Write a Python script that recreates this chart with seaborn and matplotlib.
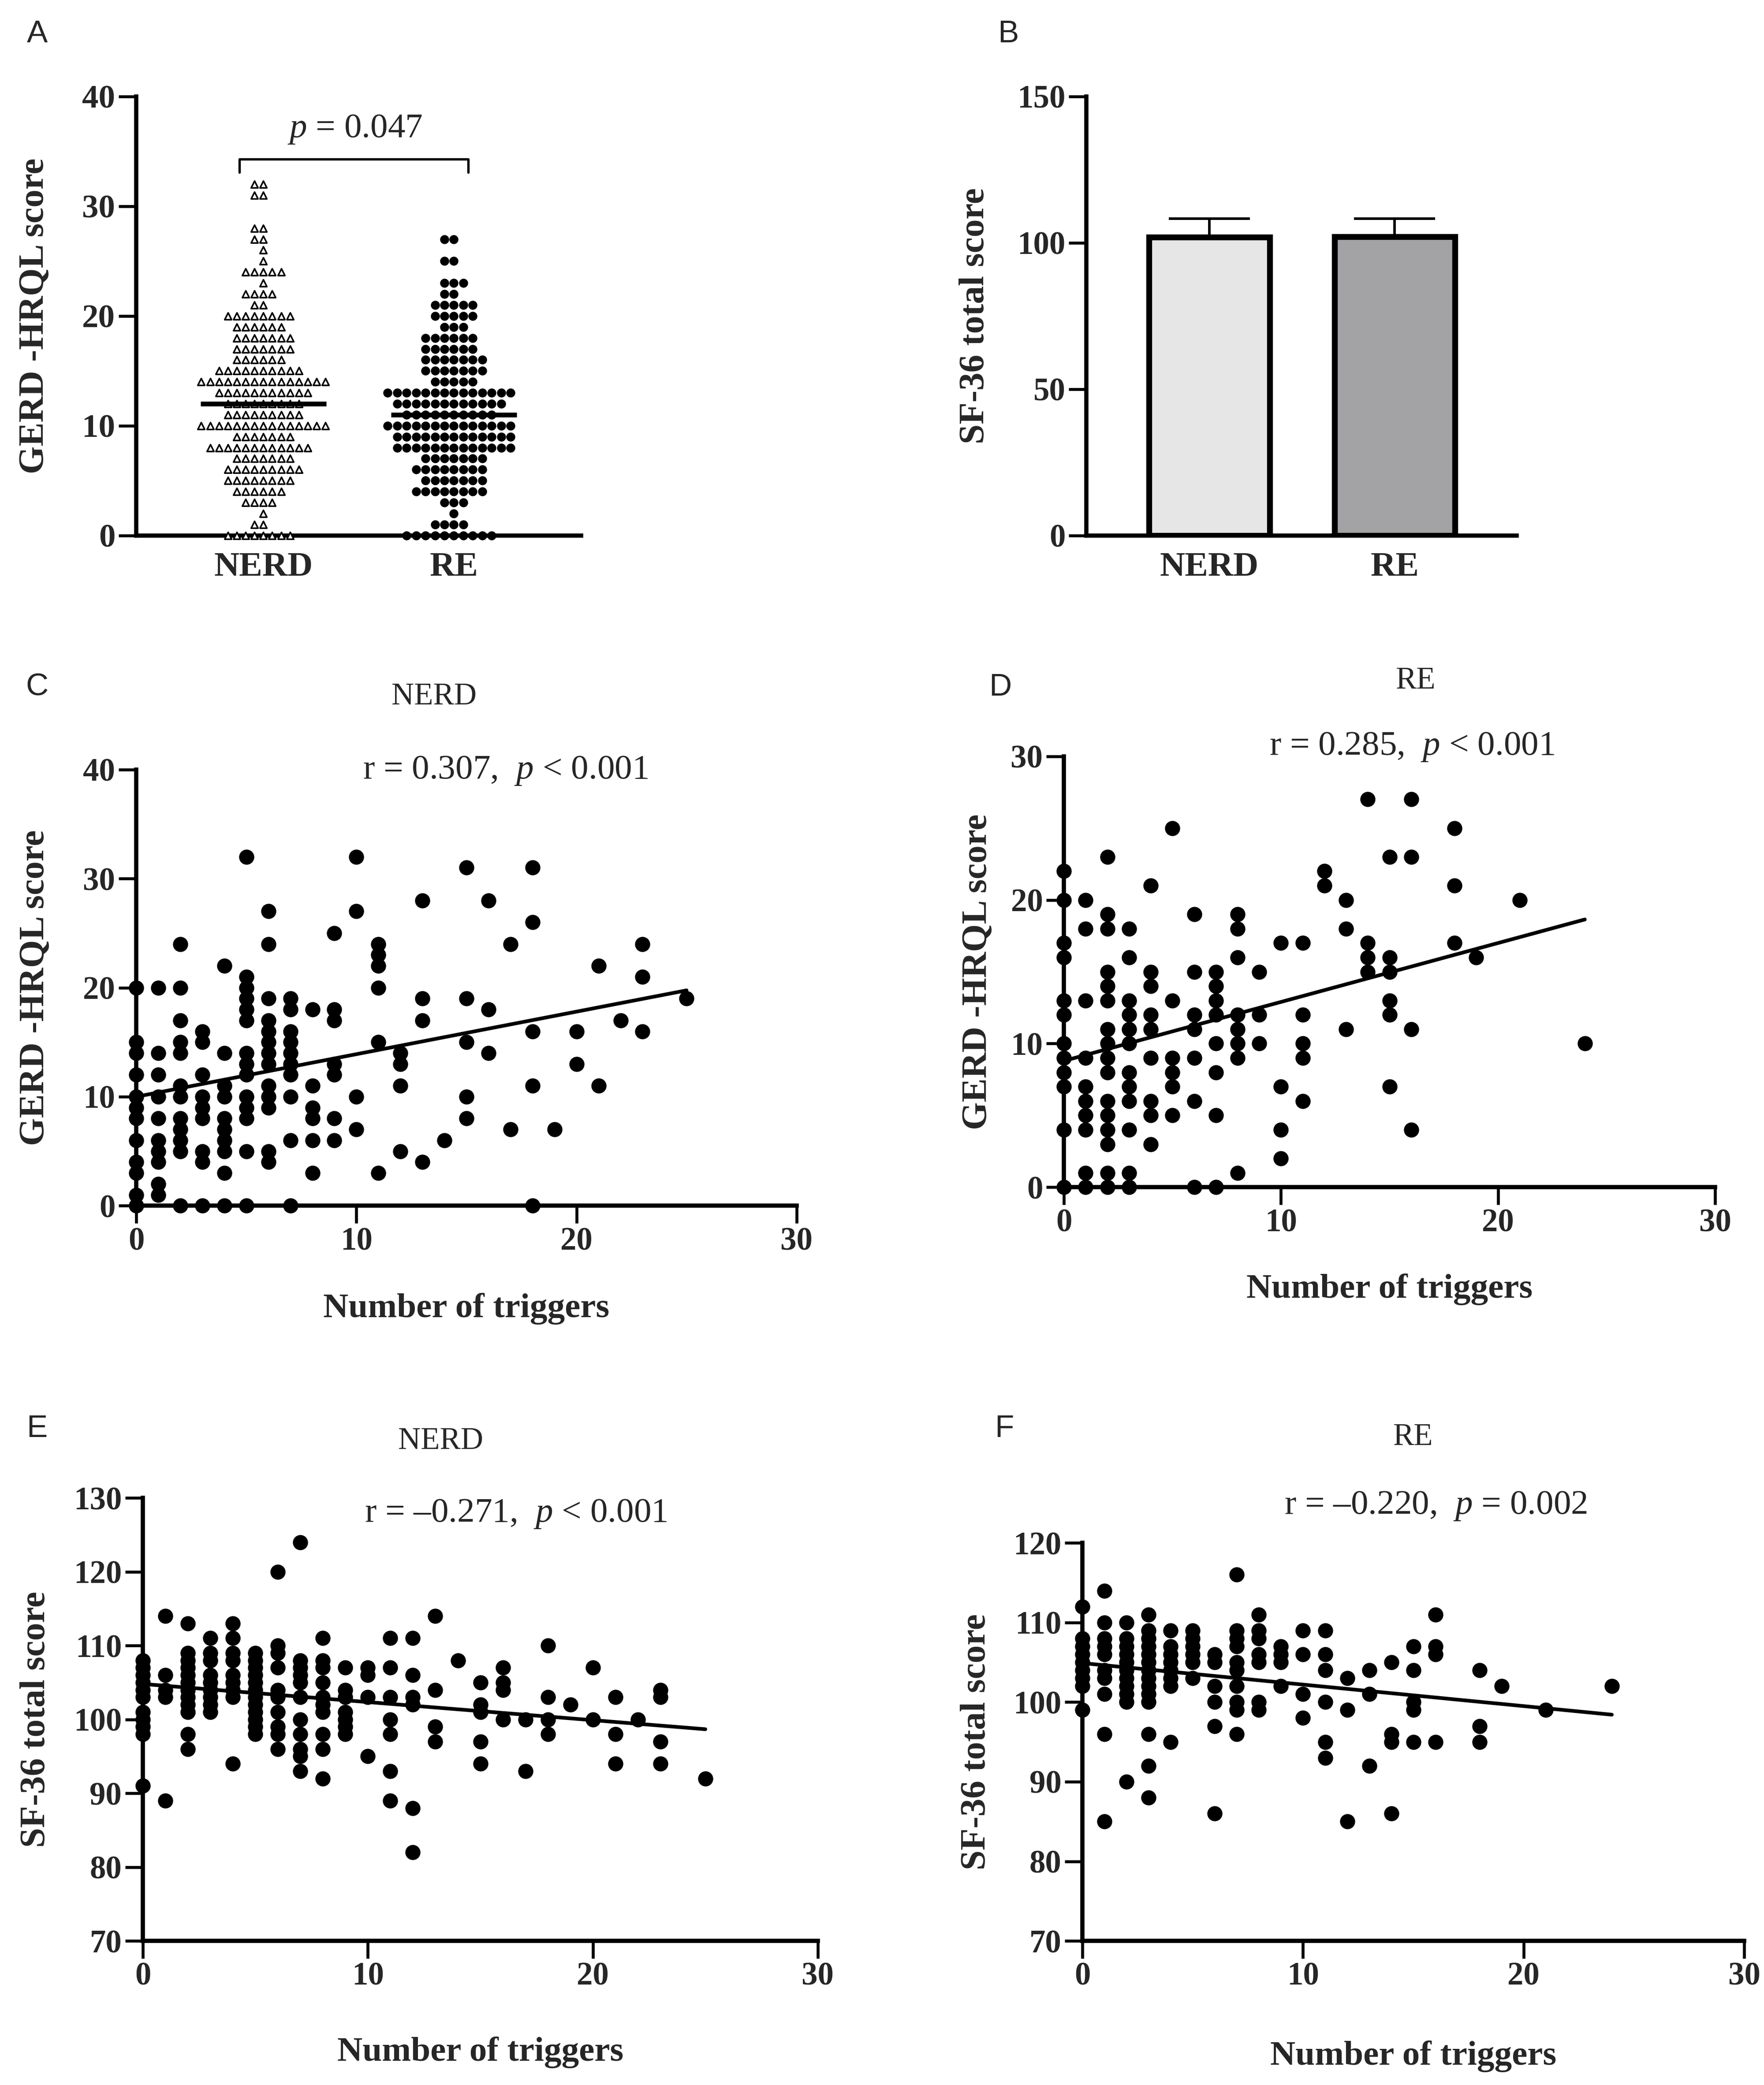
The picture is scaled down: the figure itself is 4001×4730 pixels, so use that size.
import numpy as np
import pandas as pd
import matplotlib
matplotlib.use('Agg')
import matplotlib.pyplot as plt
import seaborn as sns

# ---- Panel A: GERD-HRQL score, count of patients at each score ----
groups = ['NERD', 'RE']
nerd_scores = list(range(0, 33))
nerd_counts = [8, 2, 1, 4, 6, 8, 9, 7, 12, 7, 15, 9, 9, 11, 15, 10, 6,
               7, 7, 6, 8, 2, 4, 1, 5, 1, 1, 2, 2, 0, 0, 2, 2]
re_scores = list(range(0, 28))
re_counts = [10, 4, 1, 3, 8, 7, 8, 7, 13, 13, 14, 10, 12, 14, 5, 7, 7,
             6, 6, 3, 5, 5, 2, 3, 0, 2, 0, 2]
p_text_a = '$p$ = 0.047'

# ---- Panel B: SF-36 total score, mean and SD ----
sf36_means = [102.0, 102.1]
sf36_sd = [6.3, 6.2]
bar_colors = ['#e6e6e6', '#a3a2a7']

# ---- Panels C-F: number of triggers vs score (visible points) ----
nerd_gerd = {
    0: [20, 15, 14, 12, 10, 9, 8, 6, 4, 3, 1, 0],
    1: [20, 14, 12, 10, 8, 6, 5, 4, 2, 1],
    2: [24, 20, 17, 15, 14, 11, 10, 8, 7, 6, 5, 0],
    3: [16, 15, 12, 10, 9, 8, 5, 4, 0],
    4: [22, 14, 11, 10, 8, 7, 6, 5, 3, 0],
    5: [32, 21, 20, 19, 18, 17, 14, 13, 12, 10, 9, 8, 5, 0],
    6: [27, 24, 19, 17, 16, 15, 14, 13, 11, 10, 9, 5, 4],
    7: [19, 18, 16, 15, 14, 13, 12, 10, 6, 0],
    8: [18, 11, 9, 8, 6, 3],
    9: [25, 18, 17, 13, 12, 8, 6],
    10: [32, 27, 10, 7],
    11: [24, 23, 22, 20, 15, 3],
    12: [14, 13, 11, 5],
    13: [28, 19, 17, 4],
    14: [6],
    15: [31, 19, 15, 10, 8],
    16: [28, 18, 14],
    17: [24, 7],
    18: [31, 26, 16, 11, 0],
    19: [7],
    20: [16, 13],
    21: [22, 11],
    22: [17],
    23: [24, 21, 16],
    25: [19],
}
re_gerd = {
    0: [22, 20, 17, 16, 13, 12, 10, 9, 8, 7, 4, 0],
    1: [20, 18, 13, 9, 7, 6, 5, 4, 1, 0],
    2: [23, 19, 18, 15, 14, 13, 11, 10, 9, 8, 6, 5, 4, 3, 1, 0],
    3: [18, 16, 13, 12, 11, 10, 8, 7, 6, 4, 1, 0],
    4: [21, 15, 14, 12, 11, 9, 6, 5, 3],
    5: [25, 13, 9, 8, 7, 5],
    6: [19, 15, 12, 11, 9, 6, 0],
    7: [15, 14, 13, 12, 10, 8, 5, 0],
    8: [19, 18, 16, 12, 11, 10, 9, 1],
    9: [15, 12, 10],
    10: [17, 7, 4, 2],
    11: [17, 12, 10, 9, 6],
    12: [22, 21],
    13: [20, 18, 11],
    14: [27, 17, 16, 15],
    15: [23, 16, 15, 13, 12, 7],
    16: [27, 23, 11, 4],
    18: [25, 21, 17],
    19: [16],
    21: [20],
    24: [10],
}
nerd_sf36 = {
    0: [108, 107, 106, 105, 104, 103, 101, 100, 99, 98, 91],
    1: [114, 106, 104, 103, 89],
    2: [113, 109, 108, 107, 106, 105, 104, 103, 102, 101, 98, 96],
    3: [111, 109, 108, 106, 105, 104, 103, 102, 101],
    4: [113, 111, 109, 108, 106, 105, 104, 103, 94],
    5: [109, 108, 107, 106, 105, 104, 103, 102, 101, 100, 99, 98],
    6: [120, 110, 109, 107, 104, 103, 101, 99, 98, 96],
    7: [124, 108, 107, 106, 105, 103, 100, 98, 96, 95, 93],
    8: [111, 108, 107, 105, 103, 102, 101, 98, 96, 92],
    9: [107, 104, 103, 101, 100, 99, 98],
    10: [107, 106, 103, 95],
    11: [111, 107, 103, 100, 98, 93, 89],
    12: [111, 106, 103, 102, 88, 82],
    13: [114, 104, 99, 97],
    14: [108],
    15: [105, 102, 101, 97, 94],
    16: [107, 105, 104, 100],
    17: [100, 93],
    18: [110, 103, 100, 98],
    19: [102],
    20: [107, 100],
    21: [103, 98, 94],
    22: [100],
    23: [104, 103, 97, 94],
    25: [92],
}
re_sf36 = {
    0: [112, 108, 107, 106, 105, 104, 103, 102, 99],
    1: [114, 110, 108, 107, 106, 104, 103, 101, 96, 85],
    2: [110, 108, 107, 106, 105, 104, 103, 102, 101, 100, 90],
    3: [111, 109, 108, 107, 106, 105, 104, 103, 102, 101, 100, 96, 92, 88],
    4: [109, 107, 106, 105, 104, 103, 102, 95],
    5: [109, 108, 107, 106, 105, 103],
    6: [106, 105, 102, 100, 97, 86],
    7: [116, 109, 108, 107, 105, 104, 102, 100, 99, 96],
    8: [111, 109, 108, 106, 105, 100, 99],
    9: [107, 106, 105, 102],
    10: [109, 106, 101, 98],
    11: [109, 106, 104, 100, 95, 93],
    12: [103, 99, 85],
    13: [104, 101, 92],
    14: [105, 96, 95, 86],
    15: [107, 104, 100, 99, 95],
    16: [111, 107, 106, 95],
    18: [104, 97, 95],
    19: [102],
    21: [99],
    24: [102],
}

# fitted regression lines (intercept, slope) as shown in the figure
fit_c = (10.0, 0.39)
fit_d = (8.8, 0.41)
fit_e = (104.8, -0.245)
fit_f = (104.9, -0.27)

stats_c = 'r = 0.307,  $p$ < 0.001'
stats_d = 'r = 0.285,  $p$ < 0.001'
stats_e = 'r = \u20130.271,  $p$ < 0.001'
stats_f = 'r = \u20130.220,  $p$ = 0.002'

# ---------------------------------------------------------------
sns.set_style('ticks')
plt.rcParams['font.family'] = ['Liberation Serif', 'DejaVu Serif']
plt.rcParams['font.weight'] = 'bold'
plt.rcParams['mathtext.fontset'] = 'custom'
plt.rcParams['mathtext.rm'] = 'Liberation Serif:weight=normal'
plt.rcParams['mathtext.it'] = 'Liberation Serif:style=italic:weight=normal'

W, H = 1333.0, 1577.0  # reference layout units


def fxy(px, py):
    return px / W, 1 - py / H


def add_axes(fig, left, top, right, bottom):
    return fig.add_axes([left / W, 1 - bottom / H, (right - left) / W, (bottom - top) / H])


def style_axes(ax, lw=2.3, size=17.5):
    sns.despine(ax=ax)
    for side in ['left', 'bottom']:
        ax.spines[side].set_linewidth(lw)
        ax.spines[side].set_color('black')
    ax.tick_params(width=1.6, length=9.5, labelsize=size, color='black', pad=2)


def expand(d):
    xs, ys = [], []
    for k, vals in d.items():
        xs += [k] * len(vals)
        ys += vals
    return np.array(xs), np.array(ys)


def scatter_panel(ax, data, fit, ylim, yticks, ylabel, ylab_x, xlab_y):
    xs, ys = expand(data)
    sns.scatterplot(x=xs, y=ys, color='black', s=68, linewidth=0, ax=ax,
                    clip_on=False, zorder=3)
    xr = np.array([xs.min(), xs.max()])
    ax.plot(xr, fit[0] + fit[1] * xr, color='black', lw=2.0, zorder=4)
    ax.set_xlim(0, 30)
    ax.set_ylim(*ylim)
    ax.set_xticks([0, 10, 20, 30])
    ax.set_yticks(yticks)
    ax.set_xlabel('Number of triggers', fontsize=19, fontweight='bold')
    ax.set_ylabel(ylabel, fontsize=19.5, fontweight='bold')
    ax.yaxis.set_label_coords(ylab_x, 0.5)
    ax.xaxis.set_label_coords(0.5, xlab_y)
    style_axes(ax)


fig = plt.figure(figsize=(4001 / 300, 4730 / 300), dpi=300)

# ---------------- Panel A ----------------
ax_a = add_axes(fig, 103, 73, 439, 405)
df_a = pd.DataFrame({
    'group': ['NERD'] * sum(nerd_counts) + ['RE'] * sum(re_counts),
    'score': np.concatenate([np.repeat(nerd_scores, nerd_counts),
                             np.repeat(re_scores, re_counts)]),
})
sns.swarmplot(data=df_a[df_a['group'] == 'NERD'], x='group', y='score', order=groups,
              marker='^', color='white', edgecolor='black', linewidth=0.85,
              size=3.75, ax=ax_a, zorder=3)
sns.swarmplot(data=df_a[df_a['group'] == 'RE'], x='group', y='score', order=groups,
              marker='o', color='black', linewidth=0, size=4.9, ax=ax_a, zorder=3)
for coll in ax_a.collections:
    coll.set_clip_on(False)
medians = df_a.groupby('group')['score'].median()
for i, g in enumerate(groups):
    ax_a.hlines(medians[g], i - 0.33, i + 0.33, color='black', lw=2.6, zorder=4)
ax_a.set_xlim(-0.667, 1.667)
ax_a.set_ylim(0, 40)
ax_a.set_yticks([0, 10, 20, 30, 40])
ax_a.set_xlabel('')
ax_a.set_ylabel('GERD -HRQL score', fontsize=19.5, fontweight='bold')
ax_a.yaxis.set_label_coords(-0.193, 0.5)
style_axes(ax_a, size=18)
ax_a.tick_params(axis='x', length=0, labelsize=19, pad=9)
# significance bracket
ax_a.plot([-0.125, -0.125, 1.076, 1.076], [33.1, 34.3, 34.3, 33.1], color='black', lw=1.3)
ax_a.text(0.48, 37.0, p_text_a, ha='center', va='center', fontsize=19,
          fontweight='normal')

# ---------------- Panel B ----------------
ax_b = add_axes(fig, 821, 73, 1146, 405)
sns.barplot(x=groups, y=sf36_means, hue=groups, palette=bar_colors, legend=False,
            edgecolor='black', linewidth=3.2, width=0.65, ax=ax_b, zorder=3)
ax_b.errorbar(range(len(groups)), sf36_means, yerr=[[0, 0], sf36_sd], fmt='none',
              ecolor='black', elinewidth=1.4, capsize=22, capthick=1.4, zorder=2)
ax_b.set_xlim(-0.663, 1.657)
ax_b.set_ylim(0, 150)
ax_b.set_yticks([0, 50, 100, 150])
ax_b.set_ylabel('SF-36 total score', fontsize=19.5, fontweight='bold')
ax_b.yaxis.set_label_coords(-0.222, 0.5)
style_axes(ax_b)
ax_b.tick_params(axis='x', length=0, labelsize=19, pad=9)

# ---------------- Panels C-F ----------------
ax_c = add_axes(fig, 103, 582, 602, 912)
scatter_panel(ax_c, nerd_gerd, fit_c, (0, 40), [0, 10, 20, 30, 40],
              'GERD -HRQL score', -0.129, -0.2)
ax_d = add_axes(fig, 804, 572, 1296, 898)
scatter_panel(ax_d, re_gerd, fit_d, (0, 30), [0, 10, 20, 30],
              'GERD -HRQL score', -0.108, -0.2)
ax_e = add_axes(fig, 108, 1133, 618, 1468)
scatter_panel(ax_e, nerd_sf36, fit_e, (70, 130), list(range(70, 131, 10)),
              'SF-36 total score', -0.135, -0.216)
ax_f = add_axes(fig, 818, 1167, 1318, 1468)
scatter_panel(ax_f, re_sf36, fit_f, (70, 120), list(range(70, 121, 10)),
              'SF-36 total score', -0.136, -0.25)

# panel titles and statistics
titles = [('NERD', 328, 527, stats_c, 382, 583),
          ('RE', 1070, 515, stats_d, 1067, 565),
          ('NERD', 333, 1090, stats_e, 390, 1145),
          ('RE', 1068, 1087, stats_f, 1085, 1139)]
for name, tx, ty, stat, sx, sy in titles:
    fig.text(*fxy(tx, ty), name, ha='center', va='center', fontsize=17,
             fontweight='normal')
    fig.text(*fxy(sx, sy), stat, ha='center', va='center', fontsize=19,
             fontweight='normal')

# panel letters
letters = [('A', 28, 26), ('B', 762, 26), ('C', 28, 520),
           ('D', 756, 520), ('E', 28, 1081), ('F', 759, 1081)]
for letter, lx, ly in letters:
    fig.text(*fxy(lx, ly), letter, ha='center', va='center', fontsize=17,
             fontweight='normal', family=['Liberation Sans', 'DejaVu Sans'])

fig.savefig('out.png', dpi=300, facecolor='white')
